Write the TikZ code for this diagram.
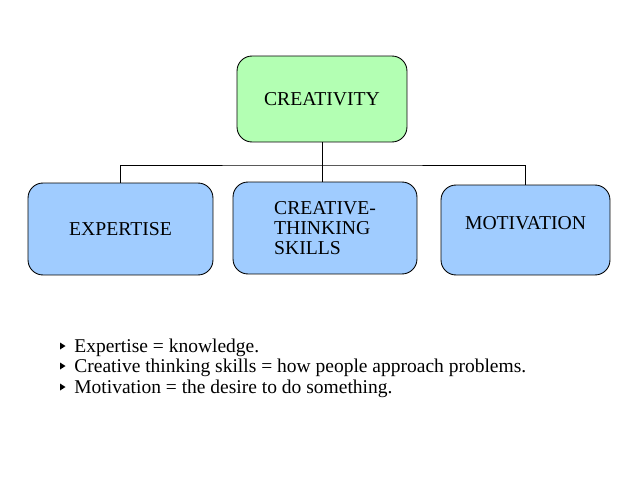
\documentclass[tikz,border=0pt]{standalone}
\usepackage{fontspec}
\setmainfont{Liberation Serif}
\definecolor{mintgreen}{RGB}{179,255,179}
\definecolor{paleblue}{RGB}{160,204,255}
\tikzset{
  box/.style={draw, line width=0.5pt, rounded corners=0.3cm, inner sep=0pt, font=\rmfamily\fontsize{11.2}{11.6}\selectfont},
  link/.style={line width=0.5pt}
}
\begin{document}
\begin{tikzpicture}[x=0.02cm,y=-0.02cm,font=\rmfamily\fontsize{11.1}{12}\selectfont]
  \useasboundingbox (0,0) rectangle (640,480);
  \node[box,fill=mintgreen,minimum width=3.4cm,minimum height=1.72cm] (creativity) at (322,99) {CREATIVITY};
  \node[box,fill=paleblue,minimum width=3.7cm,minimum height=1.84cm] (expertise) at (120.5,229) {EXPERTISE};
  \node[box,fill=paleblue,minimum width=3.68cm,minimum height=1.84cm,align=left] (skills) at (325,228) {CREATIVE-\\THINKING\\SKILLS};
  \node[box,fill=paleblue,minimum width=3.38cm,minimum height=1.8cm,text depth=8pt] (motivation) at (525.5,230) {MOTIVATION};
  \coordinate (bar) at (322,165);
  \draw[link] (creativity.south) -- (creativity.south |- skills.north);
  \draw[link] (expertise.north) |- (bar) -| (motivation.north);
  \foreach \y/\t [count=\i] in {346/Expertise = knowledge.,366/Creative thinking skills = how people approach problems.,387/Motivation = the desire to do something.} {
    \fill (60,\y-3.5) -- (65.5,\y) -- (60,\y+3.5) -- cycle;
    \node[anchor=west,inner sep=0pt] (note\i) at (74,\y+2) {\t};
  }
\end{tikzpicture}
\end{document}
